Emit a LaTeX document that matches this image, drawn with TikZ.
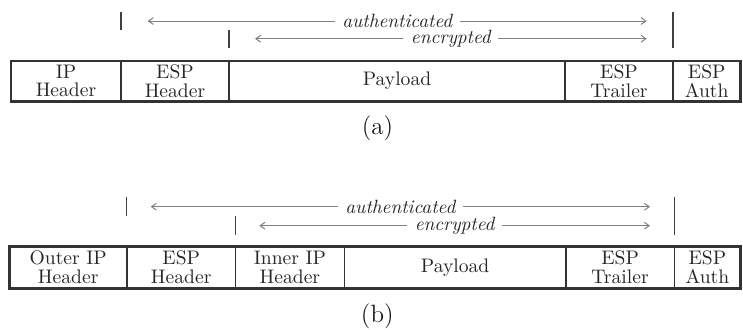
\documentclass[tikz,border=0pt]{standalone}
\usetikzlibrary{arrows.meta}
\begin{document}
\begin{tikzpicture}[x=0.5pt, y=-0.5pt,
  frame/.style={draw=black!80, line width=1.4pt},
  divider/.style={draw=black!80, line width=0.55pt},
  field/.style={font=\fontsize{9.8}{9.4}\selectfont, align=center, text=black!85, inner sep=0pt},
  span/.style={draw=black!50, line width=0.5pt,
    {Straight Barb[length=2.4pt,width=3.4pt]}-{Straight Barb[length=2.4pt,width=3.4pt]}},
  spanlabel/.style={font=\fontsize{9.6}{11}\selectfont\itshape, fill=white,
    inner xsep=3.8pt, inner ysep=1pt, text=black!85},
  tick/.style={draw=black!75, line width=0.7pt},
  caption/.style={font=\fontsize{12.5}{15}\selectfont, text=black!90}
]
\useasboundingbox (0,0) rectangle (743,329);

% ---------------- (a) transport mode ----------------
% field boundaries
\coordinate (aTL) at (11,61);
\coordinate (aBR) at (740.5,101.3);
\foreach \x in {121,229,565,673}
  \draw[divider] (\x,61) -- (\x,101.3);
\draw[frame] (aTL) rectangle (aBR);

\node[field] (aIP)  at (66,81)    {IP\\Header};
\node[field] (aESP) at (175,81)   {ESP\\Header};
\node[field] (aPay) at (397,81)   {Payload};
\node[field] (aTr)  at (619,81)   {ESP\\Trailer};
\node[field] (aAu)  at (706.7,81) {ESP\\Auth};

% coverage markers
\coordinate (aAuthTop) at (121,12);   \coordinate (aAuthBot) at (121,30);
\coordinate (aEncTop)  at (229,30);   \coordinate (aEncBot)  at (229,48);
\coordinate (aEndTop)  at (673,12);   \coordinate (aEndBot)  at (673,48);
\draw[tick] (aAuthTop) -- (aAuthBot);
\draw[tick] (aEncTop) -- (aEncBot);
\draw[tick] (aEndTop) -- (aEndBot);

\coordinate (aAuthL) at (147.7,21);   \coordinate (aAuthR) at (646.7,21);
\coordinate (aEncL)  at (255,38.7);   \coordinate (aEncR)  at (646.7,38.7);
\draw[span] (aAuthL) -- node[spanlabel] (aAuthT) {authenticated} (aAuthR);
\draw[span] (aEncL) -- node[spanlabel] (aEncT) {encrypted} (aEncR);

\node[caption] (capA) at (377.5,128.7) {(a)};

% ---------------- (b) tunnel mode ----------------
\coordinate (bTL) at (9.5,246.7);
\coordinate (bBR) at (740.5,288.3);
\foreach \x in {127,235.5,344.3,566,674.3}
  \draw[divider] (\x,246.7) -- (\x,288.3);
\draw[frame] (bTL) rectangle (bBR);

\node[field] (bOIP) at (68.2,267.5)  {Outer IP\\Header};
\node[field] (bESP) at (181.2,267.5) {ESP\\Header};
\node[field] (bIIP) at (289.9,267.5) {Inner IP\\Header};
\node[field] (bPay) at (455.1,267.5) {Payload};
\node[field] (bTr)  at (620.1,267.5) {ESP\\Trailer};
\node[field] (bAu)  at (707.4,267.5) {ESP\\Auth};

\coordinate (bAuthTop) at (126.7,197.3); \coordinate (bAuthBot) at (126.7,216);
\coordinate (bEncTop)  at (235.3,216);   \coordinate (bEncBot)  at (235.3,234.5);
\coordinate (bEndTop)  at (674.3,197.3); \coordinate (bEndBot)  at (674.3,234.5);
\draw[tick] (bAuthTop) -- (bAuthBot);
\draw[tick] (bEncTop) -- (bEncBot);
\draw[tick] (bEndTop) -- (bEndBot);

\coordinate (bAuthL) at (150.7,206.7);  \coordinate (bAuthR) at (650,206.7);
\coordinate (bEncL)  at (259.3,225.7);  \coordinate (bEncR)  at (650,225.7);
\draw[span] (bAuthL) -- node[spanlabel] (bAuthT) {authenticated} (bAuthR);
\draw[span] (bEncL) -- node[spanlabel] (bEncT) {encrypted} (bEncR);

\node[caption] (capB) at (377.3,316.3) {(b)};
\end{tikzpicture}
\end{document}
